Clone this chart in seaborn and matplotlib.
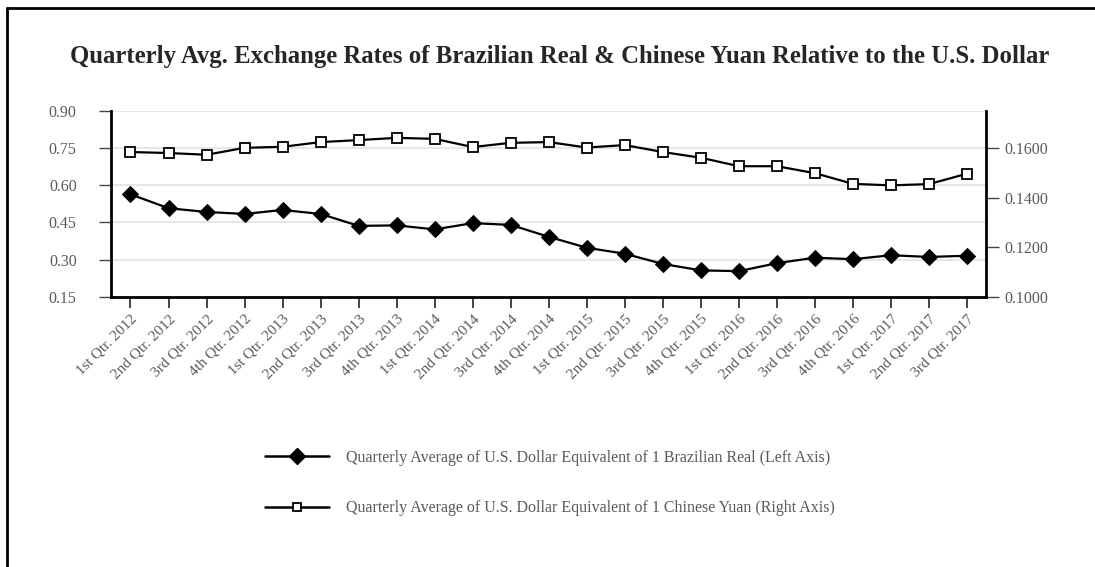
import matplotlib
matplotlib.use("Agg")
import matplotlib.pyplot as plt
from matplotlib.lines import Line2D
import seaborn as sns
import pandas as pd

quarters = [
    "1st Qtr. 2012", "2nd Qtr. 2012", "3rd Qtr. 2012", "4th Qtr. 2012",
    "1st Qtr. 2013", "2nd Qtr. 2013", "3rd Qtr. 2013", "4th Qtr. 2013",
    "1st Qtr. 2014", "2nd Qtr. 2014", "3rd Qtr. 2014", "4th Qtr. 2014",
    "1st Qtr. 2015", "2nd Qtr. 2015", "3rd Qtr. 2015", "4th Qtr. 2015",
    "1st Qtr. 2016", "2nd Qtr. 2016", "3rd Qtr. 2016", "4th Qtr. 2016",
    "1st Qtr. 2017", "2nd Qtr. 2017", "3rd Qtr. 2017",
]
brl = [0.563, 0.507, 0.492, 0.484, 0.500, 0.484, 0.436, 0.438, 0.422, 0.447,
       0.440, 0.392, 0.348, 0.324, 0.283, 0.257, 0.254, 0.286, 0.308, 0.302,
       0.318, 0.311, 0.316]
cny = [0.1583, 0.1579, 0.1572, 0.1600, 0.1604, 0.1623, 0.1631, 0.1640, 0.1636,
       0.1603, 0.1620, 0.1623, 0.1601, 0.1611, 0.1583, 0.1560, 0.1526, 0.1526,
       0.1498, 0.1455, 0.1449, 0.1454, 0.1496]
left_ticks = [0.15, 0.30, 0.45, 0.60, 0.75, 0.90]
right_ticks = [0.10, 0.12, 0.14, 0.16]

brl_label = "Quarterly Average of U.S. Dollar Equivalent of 1 Brazilian Real (Left Axis)"
cny_label = "Quarterly Average of U.S. Dollar Equivalent of 1 Chinese Yuan (Right Axis)"

sns.set_style("white")
plt.rcParams["font.family"] = ["Liberation Serif", "DejaVu Serif"]

df = pd.DataFrame({"pos": range(len(quarters)), "brl": brl, "cny": cny})
grey = "#5a5a5a"

fig = plt.figure(figsize=(10.95, 5.67), dpi=100)
ax = fig.add_axes([0.1018, 0.4762, 0.7987, 0.3289])
ax2 = ax.twinx()

sns.lineplot(data=df, x="pos", y="brl", ax=ax, color="black", linewidth=1.6,
             marker="D", markersize=8, markerfacecolor="black",
             markeredgecolor="black", label=brl_label, legend=False)
sns.lineplot(data=df, x="pos", y="cny", ax=ax2, color="black", linewidth=1.6,
             marker="s", markersize=6.5, markerfacecolor="white",
             markeredgecolor="black", markeredgewidth=1.3, label=cny_label,
             legend=False)

ax.set_xlim(-0.5, len(quarters) - 0.5)
ax.set_ylim(0.15, 0.90)
ax2.set_ylim(0.10, 0.175)
ax.set_yticks(left_ticks)
ax.set_yticklabels([f"{v:.2f}" for v in left_ticks])
ax2.set_yticks(right_ticks)
ax2.set_yticklabels([f"{v:.4f}" for v in right_ticks])
ax.set_xticks(range(len(quarters)))
ax.set_xticklabels(quarters, rotation=45, ha="right", rotation_mode="anchor")
ax.set_xlabel("")
ax.set_ylabel("")
ax2.set_ylabel("")

ax.yaxis.grid(True, color="#e2e2e2", linewidth=1.2)
ax.set_axisbelow(True)
ax2.grid(False)

for a in (ax, ax2):
    a.spines["top"].set_visible(False)
    for s in ("left", "right", "bottom"):
        a.spines[s].set_linewidth(2)
        a.spines[s].set_color("black")
ax.spines["right"].set_visible(False)
ax2.spines["left"].set_visible(False)
ax2.spines["bottom"].set_visible(False)

ax.tick_params(axis="y", direction="out", length=9, width=1, color="#444444",
               labelsize=11.5, labelcolor=grey, pad=16, left=True)
ax.tick_params(axis="x", direction="out", length=8, width=1.2, color="#222222",
               labelsize=11, labelcolor=grey, pad=3, bottom=True)
ax2.tick_params(axis="y", direction="out", length=9, width=1, color="#444444",
                labelsize=11.5, labelcolor=grey, pad=4, right=True)

fig.suptitle("Quarterly Avg. Exchange Rates of Brazilian Real & Chinese Yuan Relative to the U.S. Dollar",
             x=0.511, y=0.900, fontsize=17.8, fontweight="bold", va="center")

handles = [
    Line2D([], [], color="black", linewidth=1.8, marker="D", markersize=8,
           markerfacecolor="black", markeredgecolor="black"),
    Line2D([], [], color="black", linewidth=1.8, marker="s", markersize=6,
           markerfacecolor="white", markeredgecolor="black", markeredgewidth=1.3),
]
leg = fig.legend(handles, [brl_label, cny_label], loc="center left",
                 bbox_to_anchor=(0.242, 0.148), frameon=False, fontsize=11.5,
                 handlelength=4.0, handletextpad=1.06, labelspacing=2.13,
                 borderpad=0, borderaxespad=0, markerscale=1)
for t in leg.get_texts():
    t.set_color(grey)

# outer frame (left and top edges)
fig.add_artist(Line2D([7 / 1095, 7 / 1095], [0, 1 - 8 / 567], color="black",
                      linewidth=2, transform=fig.transFigure))
fig.add_artist(Line2D([7 / 1095, 1], [1 - 8 / 567, 1 - 8 / 567], color="black",
                      linewidth=2, transform=fig.transFigure))

fig.savefig("out.png", dpi=100)
